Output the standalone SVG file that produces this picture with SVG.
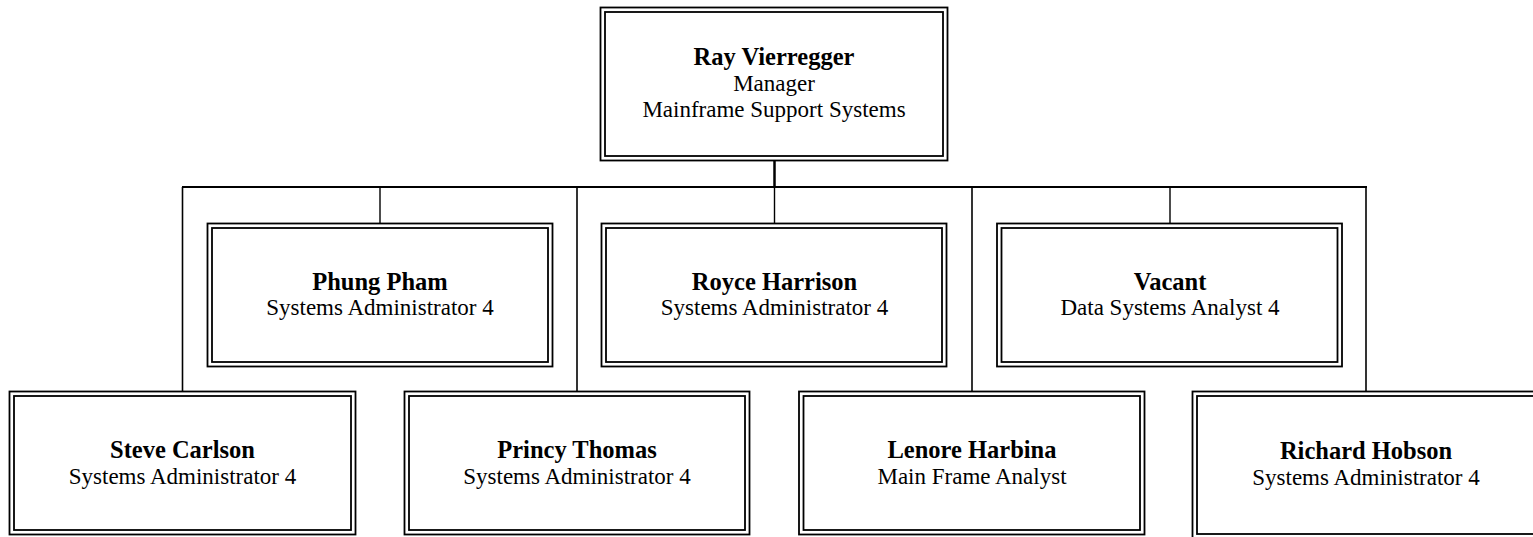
<svg xmlns="http://www.w3.org/2000/svg" width="1533" height="537" viewBox="0 0 1533 537">
<style>
.o{fill:#fff;stroke:#000;stroke-width:1.8}
.i{fill:none;stroke:#000;stroke-width:1.8}
.n{font-family:"Liberation Serif","Times New Roman",serif;font-weight:bold;font-size:24.5px;text-anchor:middle;fill:#000}
.t{font-family:"Liberation Serif","Times New Roman",serif;font-size:23px;text-anchor:middle;fill:#000}
.c{stroke:#000;fill:none}
</style>
<rect width="1533" height="537" fill="#fff"/>
<g id="connectors">
<line class="c" x1="774.5" y1="161" x2="774.5" y2="187" stroke-width="2.5"/>
<line class="c" x1="182" y1="187" x2="1367" y2="187" stroke-width="2"/>
<line class="c" x1="182.5" y1="187" x2="182.5" y2="391" stroke-width="1.6"/>
<line class="c" x1="577" y1="187" x2="577" y2="391" stroke-width="1.6"/>
<line class="c" x1="972" y1="187" x2="972" y2="391" stroke-width="1.6"/>
<line class="c" x1="1366" y1="187" x2="1366" y2="391" stroke-width="1.6"/>
<line class="c" x1="380" y1="187" x2="380" y2="223" stroke-width="1.4"/>
<line class="c" x1="774.5" y1="187" x2="774.5" y2="223" stroke-width="1.4"/>
<line class="c" x1="1170" y1="187" x2="1170" y2="223" stroke-width="1.4"/>
</g>
<g id="ray">
<rect class="o" x="600.5" y="7.5" width="347" height="153"/>
<rect class="i" x="605" y="12" width="338" height="144"/>
<text class="n" x="774" y="65">Ray Vierregger</text>
<text class="t" x="774" y="91">Manager</text>
<text class="t" x="774" y="117">Mainframe Support Systems</text>
</g>
<g id="phung">
<rect class="o" x="207.5" y="223.5" width="345" height="143"/>
<rect class="i" x="212" y="228" width="336" height="134"/>
<text class="n" x="380" y="290">Phung Pham</text>
<text class="t" x="380" y="315">Systems Administrator 4</text>
</g>
<g id="royce">
<rect class="o" x="601.5" y="223.5" width="345" height="143"/>
<rect class="i" x="606" y="228" width="336" height="134"/>
<text class="n" x="774.5" y="290">Royce Harrison</text>
<text class="t" x="774.5" y="315">Systems Administrator 4</text>
</g>
<g id="vacant">
<rect class="o" x="997" y="223.5" width="345" height="143"/>
<rect class="i" x="1001.5" y="228" width="336" height="134"/>
<text class="n" x="1170" y="290">Vacant</text>
<text class="t" x="1170" y="315">Data Systems Analyst 4</text>
</g>
<g id="steve">
<rect class="o" x="9.5" y="391.5" width="346" height="143"/>
<rect class="i" x="14" y="396" width="337" height="134"/>
<text class="n" x="182.5" y="458">Steve Carlson</text>
<text class="t" x="182.5" y="484">Systems Administrator 4</text>
</g>
<g id="princy">
<rect class="o" x="404.5" y="391.5" width="345" height="143"/>
<rect class="i" x="409" y="396" width="336" height="134"/>
<text class="n" x="577" y="458">Princy Thomas</text>
<text class="t" x="577" y="484">Systems Administrator 4</text>
</g>
<g id="lenore">
<rect class="o" x="799" y="391.5" width="345.5" height="143"/>
<rect class="i" x="803.5" y="396" width="336.5" height="134"/>
<text class="n" x="972" y="458">Lenore Harbina</text>
<text class="t" x="972" y="484">Main Frame Analyst</text>
</g>
<g id="richard">
<rect class="o" x="1192.5" y="391.5" width="347" height="148"/>
<rect class="i" x="1197" y="396" width="338" height="138"/>
<text class="n" x="1366" y="459">Richard Hobson</text>
<text class="t" x="1366" y="485">Systems Administrator 4</text>
</g>
</svg>
